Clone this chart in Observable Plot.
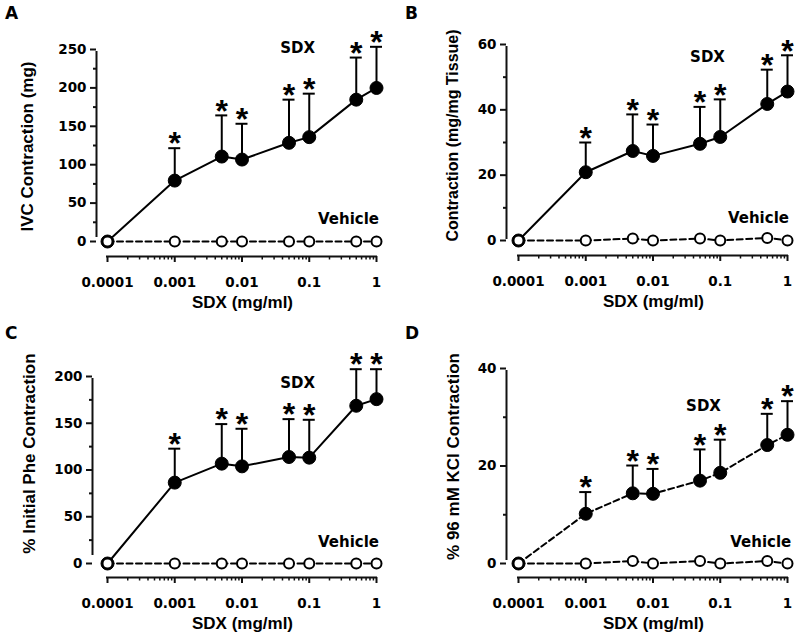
<!DOCTYPE html>
<html><head><meta charset="utf-8">
<script src="https://cdn.jsdelivr.net/npm/d3@7"></script>
<script src="https://cdn.jsdelivr.net/npm/@observablehq/plot@0.6"></script>
<style>
body{margin:0;background:#fff;}
#wrap{position:relative;width:800px;height:640px;background:#fff;}
.panel{position:absolute;width:400px;height:320px;}
.panel svg{overflow:visible;}
.letter{position:absolute;font-family:"DejaVu Sans",sans-serif;font-weight:bold;font-size:17px;color:#000;line-height:1;}
g[aria-label="y-axis tick label"] text, g[aria-label="x-axis tick label"] text{font-family:"DejaVu Sans",sans-serif;font-weight:bold;font-size:13.5px;fill:#000;}
g[aria-label="y-axis label"] text, g[aria-label="x-axis label"] text{font-family:"Liberation Sans",Arial,sans-serif;font-weight:bold;font-size:17px;fill:#000;}
.pB g[aria-label="y-axis label"] text{font-size:16px;}
</style></head><body><div id="wrap"></div>
<script>
// Doses (mg/ml)
const doses = [0.0001, 0.001, 0.005, 0.01, 0.05, 0.1, 0.5, 1];
const xTicks = [0.0001, 0.001, 0.01, 0.1, 1];
const xTickLabels = ["0.0001", "0.001", "0.01", "0.1", "1"];
const xMinorTicks = [0.0002,0.0003,0.0004,0.0005,0.0006,0.0007,0.0008,0.0009,
  0.002,0.003,0.004,0.005,0.006,0.007,0.008,0.009,
  0.02,0.03,0.04,0.05,0.06,0.07,0.08,0.09,
  0.2,0.3,0.4,0.5,0.6,0.7,0.8,0.9];
const starred = [false, true, true, true, true, true, true, true];

// Panel A: IVC contraction (mg)
const aSdxMean = [0, 79.3, 110.6, 106.7, 128.5, 135.9, 184.7, 199.9];
const aSdxSem  = [0, 42.2, 53.6, 46.6, 56.2, 56.6, 54.8, 53.6];
const aVehicle = [0, 0, 0, 0, 0, 0, 0, 0];
const aYTicks = [0, 50, 100, 150, 200, 250];
const aYMinor = [25, 75, 125, 175, 225];

// Panel B: contraction (mg/mg tissue)
const bSdxMean = [0, 20.9, 27.4, 25.9, 29.6, 31.7, 41.8, 45.6];
const bSdxSem  = [0, 9.1, 11.2, 9.6, 11.3, 11.5, 10.5, 11.1];
const bVehicle = [0, 0, 0.6, 0, 0.6, 0, 0.8, 0];
const bYTicks = [0, 20, 40, 60];
const bYMinor = [10, 30, 50];

// Panel C: % initial Phe contraction
const cSdxMean = [0, 86.5, 106.8, 103.9, 113.9, 113.2, 168.7, 175.8];
const cSdxSem  = [0, 36.3, 42.3, 40.2, 40.5, 40.5, 39.1, 32.0];
const cVehicle = [0, 0, 0, 0, 0, 0, 0, 0];
const cYTicks = [0, 50, 100, 150, 200];
const cYMinor = [25, 75, 125, 175];

// Panel D: % 96 mM KCl contraction
const dSdxMean = [0, 10.2, 14.4, 14.3, 17.0, 18.6, 24.3, 26.4];
const dSdxSem  = [0, 4.45, 5.7, 5.1, 6.4, 6.8, 6.4, 6.9];
const dVehicle = [0, 0, 0.5, 0, 0.5, 0, 0.5, 0];
const dYTicks = [0, 20, 40];
const dYMinor = [10, 30];

const panels = [
  {letter: "A", left: 0, top: 0, mean: aSdxMean, sem: aSdxSem, veh: aVehicle, yMax: 250, yTicks: aYTicks, yMinor: aYMinor,
   yLabel: "IVC Contraction (mg)", sdxDash: null,
   sdxLab: {x: 0.067, y: 252}, vehLab: {x: 0.384, y: 28.6},
   ml: 96, mr: 12, mt: 36, mb: 64, xRange: [107, 376], yRange: [241, 49], axisExt: 4, ylo: 76, xlo: 51},
  {letter: "B", left: 400, top: 0, mean: bSdxMean, sem: bSdxSem, veh: bVehicle, yMax: 60, yTicks: bYTicks, yMinor: bYMinor,
   yLabel: "Contraction (mg/mg Tissue)", sdxDash: null,
   sdxLab: {x: 0.0646, y: 56.1}, vehLab: {x: 0.37, y: 6.7},
   ml: 106, mr: 0, mt: 15, mb: 65, xRange: [118, 387], yRange: [240, 44], axisExt: 1, ylo: 60, xlo: 51},
  {letter: "C", left: 0, top: 320, mean: cSdxMean, sem: cSdxSem, veh: cVehicle, yMax: 200, yTicks: cYTicks, yMinor: cYMinor,
   yLabel: "% Initial Phe Contraction", sdxDash: null,
   sdxLab: {x: 0.067, y: 192.5}, vehLab: {x: 0.384, y: 22.5},
   ml: 92, mr: 8, mt: 9, mb: 63, xRange: [107, 376], yRange: [243, 56], axisExt: 8, ylo: 70, xlo: 51},
  {letter: "D", left: 400, top: 320, mean: dSdxMean, sem: dSdxSem, veh: dVehicle, yMax: 40, yTicks: dYTicks, yMinor: dYMinor,
   yLabel: "% 96 mM KCl Contraction", sdxDash: "6,3.5",
   sdxLab: {x: 0.0564, y: 32.2}, vehLab: {x: 0.40, y: 4.4},
   ml: 106, mr: 0, mt: 15, mb: 63, xRange: [118, 387], yRange: [243, 48], axisExt: 3, ylo: 60, xlo: 51}
];

const FONT_TXT = "DejaVu Sans, sans-serif";
const INK = "black";
const AXIS = "#111";
const wrap = document.getElementById("wrap");

for (const p of panels) {
  const sdx = doses.map((d, i) => ({dose: d, mean: p.mean[i], upper: p.mean[i] + p.sem[i], sem: p.sem[i], star: starred[i]}));
  const veh = doses.map((d, i) => ({dose: d, value: p.veh[i]}));
  const bars = sdx.filter(d => d.sem > 0);
  const H = 320;
  const chart = Plot.plot({
    width: 400, height: H,
    marginLeft: p.ml, marginRight: p.mr, marginTop: p.mt, marginBottom: p.mb,
    style: {background: "transparent", color: "#000", overflow: "visible"},
    x: {type: "log", domain: [1e-4, 1], range: p.xRange},
    y: {type: "linear", domain: [0, p.yMax], range: p.yRange},
    marks: [
      // axis lines
      Plot.ruleX([1e-4], {y1: 0, y2: p.yMax, dx: p.ml - p.xRange[0], insetTop: -p.axisExt, insetBottom: -2, stroke: AXIS, strokeWidth: 2}),
      Plot.ruleY([0], {x1: 1e-4, x2: 1, dy: (H - p.mb) - p.yRange[0], insetLeft: -1, insetRight: -1, stroke: AXIS, strokeWidth: 2.2}),
      // axes
      Plot.axisY({ticks: p.yTicks, tickSize: 6, tickPadding: 4, stroke: AXIS, strokeWidth: 2,
        label: p.yLabel, labelAnchor: "center", labelArrow: false, labelOffset: p.ylo}),
      Plot.axisY({ticks: p.yMinor, tickSize: 3, stroke: AXIS, strokeWidth: 2, tickFormat: () => "", label: null}),
      Plot.axisX({ticks: xTicks, tickSize: 6, tickPadding: 15, stroke: AXIS, strokeWidth: 2,
        tickFormat: d => xTickLabels[xTicks.indexOf(d)],
        label: "SDX (mg/ml)", labelAnchor: "center", labelArrow: false, labelOffset: p.xlo}),
      Plot.axisX({ticks: xMinorTicks, tickSize: 3.5, stroke: AXIS, strokeWidth: 1.5, tickFormat: () => "", label: null}),
      // error bars (upper)
      Plot.ruleX(bars, {x: "dose", y1: "mean", y2: "upper", stroke: INK, strokeWidth: 2}),
      Plot.ruleY(bars, {x1: "dose", x2: "dose", y: "upper", insetLeft: -6, insetRight: -6, stroke: INK, strokeWidth: 2}),
      // lines
      Plot.line(veh, {x: "dose", y: "value", stroke: INK, strokeWidth: 2, strokeDasharray: "6,3.5"}),
      Plot.line(sdx, {x: "dose", y: "mean", stroke: INK, strokeWidth: 2, strokeDasharray: p.sdxDash || undefined}),
      // points
      Plot.dot(sdx, {x: "dose", y: "mean", r: 6.5, fill: INK, stroke: INK, strokeWidth: 1}),
      Plot.dot(veh, {x: "dose", y: "value", r: 5, fill: "white", stroke: INK, strokeWidth: 2}),
      // significance stars
      Plot.text(sdx.filter(d => d.star), {x: "dose", y: "upper", text: () => "*", fontSize: 32, fontWeight: "bold",
        fontFamily: "Liberation Sans, Arial, sans-serif", fill: INK, dy: -4}),
      // series labels
      Plot.text([p.sdxLab], {x: "x", y: "y", text: () => "SDX", fontSize: 15, fontWeight: "bold", fontFamily: FONT_TXT, fill: INK}),
      Plot.text([p.vehLab], {x: "x", y: "y", text: () => "Vehicle", fontSize: 15, fontWeight: "bold", fontFamily: FONT_TXT, fill: INK})
    ]
  });
  const div = document.createElement("div");
  div.className = "panel p" + p.letter;
  div.style.left = p.left + "px";
  div.style.top = p.top + "px";
  div.appendChild(chart);
  const L = document.createElement("div");
  L.className = "letter";
  L.textContent = p.letter;
  L.style.left = "5px";
  L.style.top = "5px";
  div.appendChild(L);
  wrap.appendChild(div);
}
</script></body></html>
